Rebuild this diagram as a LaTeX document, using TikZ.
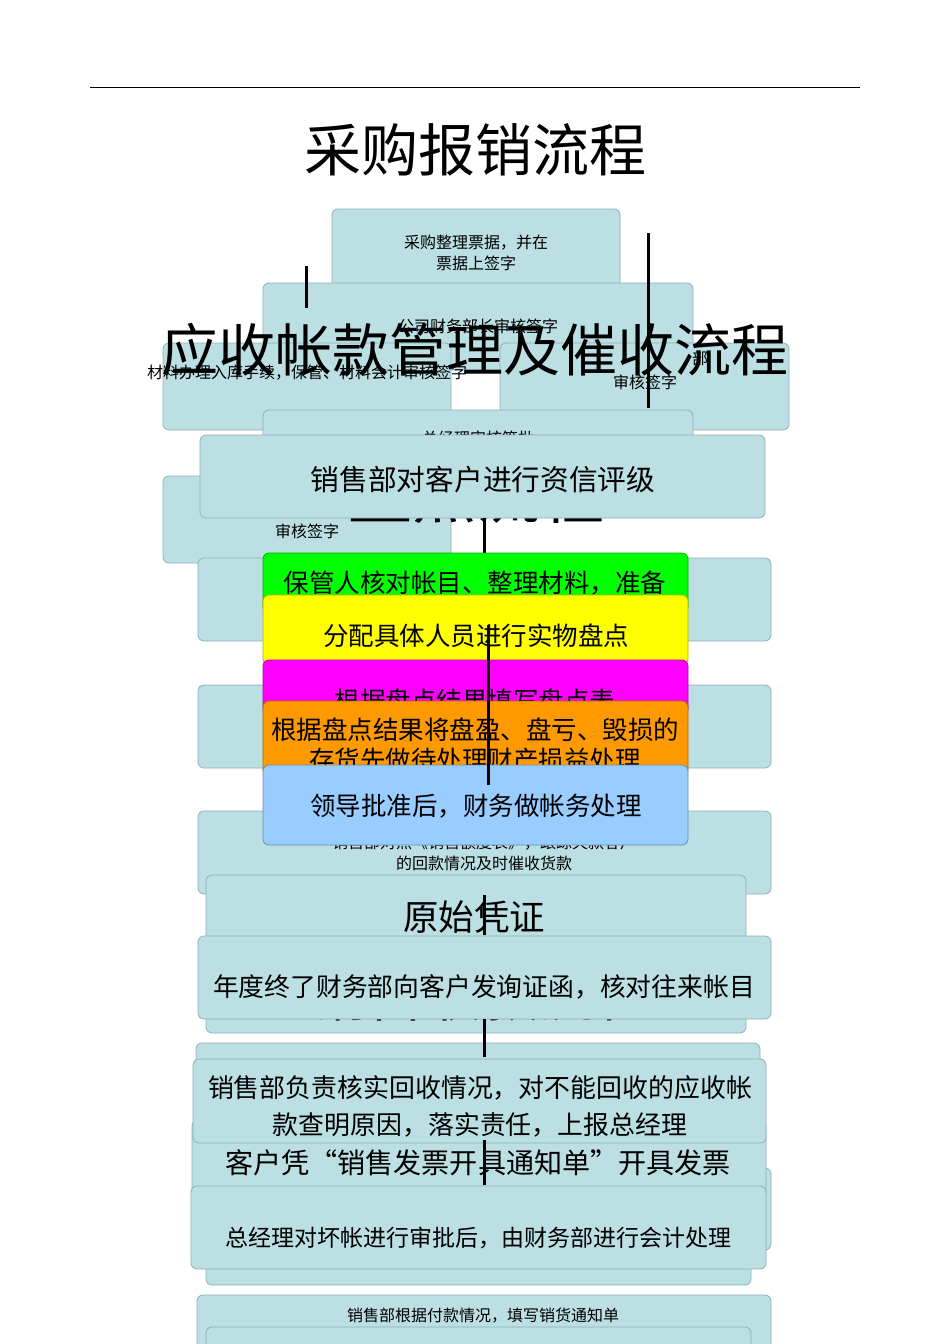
\documentclass[tikz,border=0pt]{standalone}
\usepackage{fontspec}
\setmainfont{Noto Sans CJK SC}
\definecolor{bxfill}{HTML}{BBDFE3}
\definecolor{bxdraw}{HTML}{8FB0B4}
\definecolor{cgreen}{HTML}{00FF00}
\definecolor{cyellow}{HTML}{FFFF00}
\definecolor{cmag}{HTML}{FF00FF}
\definecolor{corange}{HTML}{FF9900}
\definecolor{cblue}{HTML}{99CCFF}
\tikzset{
  box/.style={draw=bxdraw, fill=bxfill, line width=0.8pt, rounded corners=6pt, inner sep=0pt, outer sep=0pt, anchor=north west},
  cbox/.style={draw=#1!70!black, fill=#1, line width=0.8pt, rounded corners=6pt, inner sep=0pt, outer sep=0pt, anchor=north west},
  txt/.style 2 args={inner sep=0pt, align=center, font=\fontsize{#1}{#2}\selectfont},
  bigtitle/.style={inner sep=0pt, font=\fontsize{#1}{#1}\selectfont},
  conn/.style={line width=3pt, black},
}
\begin{document}
\begin{tikzpicture}[x=1pt,y=-1pt]
\useasboundingbox[fill=white] (0,0) rectangle (950,1344);
% top rule
\coordinate (r1) at (90,87); \coordinate (r2) at (860,87);
\draw[line width=1pt] (r1) -- (r2);
\node[bigtitle=57] (t1) at (475,150) {采购报销流程};
% purchase flow
\node[box, minimum width=288pt, minimum height=88pt] (A) at (332,209) {};
\node[txt={16}{21}] (tA) at (476,253) {采购整理票据，并在\\票据上签字};
\node[box, minimum width=430pt, minimum height=87pt] (B) at (263,283) {};
\node[txt={16}{21}] (tB) at (478,326) {公司财务部长审核签字};
\node[box, minimum width=288pt, minimum height=87pt] (C) at (163,343) {};
\node[txt={16}{21}] (tC) at (307,373) {材料办理入库手续，保管、材料会计审核签字};
\node[box, minimum width=289pt, minimum height=87pt] (D) at (500,343) {};
\node[txt={16}{21}] (tD1) at (700,358) {部};
\node[txt={16}{21}] (tD) at (645,382) {审核签字};
\node[box, minimum width=430pt, minimum height=85pt] (E) at (263,410) {};
\node[txt={16}{21}] (tE) at (478,438) {总经理审核签批};
\node[box, minimum width=288pt, minimum height=87pt] (F) at (163,476) {};
\node[txt={16}{21}] (tF) at (307,531) {审核签字};
\node[bigtitle=57] (t2) at (475,350) {应收帐款管理及催收流程};
\coordinate (p1) at (306,266); \coordinate (p2) at (306,308);
\coordinate (p3) at (648,233); \coordinate (p4) at (648,408);
\draw[conn] (p1) -- (p2);
\draw[conn] (p3) -- (p4);
\node[bigtitle=64] (t3) at (476,494) {盘点流程};
% receivables flow
\node[box, minimum width=565pt, minimum height=83pt] (S1) at (200,435) {};
\node[txt={28.7}{37}] (tS1) at (483,480) {销售部对客户进行资信评级};
\node[box, minimum width=573pt, minimum height=83pt] (G) at (198,558) {};
\node[box, minimum width=573pt, minimum height=83pt] (H) at (198,685) {};
\node[box, minimum width=573pt, minimum height=83pt] (I) at (198,811) {};
\node[txt={16}{21}] (tI) at (484,853) {销售部对照《销售额度表》，跟踪欠款客户\\的回款情况及时催收货款};
\coordinate (s1) at (484,518); \coordinate (s2) at (484,553);
\draw[conn] (s1) -- (s2);
% inventory flow
\node[cbox=cgreen, minimum width=425pt, minimum height=60pt] (K1) at (263,553) {};
\node[txt={25.5}{30}] (tK1) at (475,583) {保管人核对帐目、整理材料，准备};
\node[cbox=cyellow, minimum width=425pt, minimum height=70pt] (K2) at (263,595) {};
\node[txt={25.5}{30}] (tK2) at (476,636) {分配具体人员进行实物盘点};
\node[cbox=cmag, minimum width=425pt, minimum height=55pt] (K3) at (263,660) {};
\node[txt={25.5}{30}] (tK3) at (475,701) {根据盘点结果填写盘点表};
\node[cbox=corange, minimum width=425pt, minimum height=75pt] (K4) at (263,701) {};
\node[txt={25.5}{30}] (tK4) at (475,745) {根据盘点结果将盘盈、盘亏、毁损的\\存货先做待处理财产损益处理};
\node[cbox=cblue, minimum width=425pt, minimum height=80pt] (K5) at (263,765) {};
\node[txt={25.5}{30}] (tK5) at (476,806) {领导批准后，财务做帐务处理};
\coordinate (k1) at (488,625); \coordinate (k2) at (488,785);
\draw[conn] (k1) -- (k2);
% lower flows
\node[box, minimum width=540pt, minimum height=158pt] (J) at (206,875) {};
\node[txt={35.5}{40}] (tJ) at (474,917) {原始凭证};
\coordinate (j1) at (484,895); \coordinate (j2) at (484,935);
\draw[conn] (j1) -- (j2);
\node[bigtitle=57] (t4) at (481,995) {销售收款流程};
\node[box, minimum width=573pt, minimum height=83pt] (Kd) at (198,936) {};
\node[txt={25.8}{37}] (tKd) at (484,987) {年度终了财务部向客户发询证函，核对往来帐目};
\node[box, minimum width=564pt, minimum height=60pt] (L) at (196,1043) {};
\coordinate (l1) at (484,1019); \coordinate (l2) at (484,1057);
\draw[conn] (l1) -- (l2);
\node[box, minimum width=566pt, minimum height=82pt] (O) at (205,1168) {};
\node[box, minimum width=545pt, minimum height=85pt] (Sx) at (206,1200) {};
\node[box, minimum width=574pt, minimum height=80pt] (N) at (192,1120) {};
\node[txt={28.1}{40}] (tN) at (478,1163) {客户凭“销售发票开具通知单”开具发票};
\node[box, minimum width=573pt, minimum height=84pt] (M) at (193,1059) {};
\node[txt={25.9}{37}] (tM) at (480,1106) {销售部负责核实回收情况，对不能回收的应收帐\\款查明原因，落实责任，上报总经理};
\node[box, minimum width=575pt, minimum height=83pt] (P) at (191,1186) {};
\node[txt={23}{30}] (tP) at (478,1238) {总经理对坏帐进行审批后，由财务部进行会计处理};
\coordinate (m1) at (484,1140); \coordinate (m2) at (484,1185);
\draw[conn] (m1) -- (m2);
\node[box, minimum width=574pt, minimum height=70pt] (Q) at (197,1295) {};
\node[txt={16}{21}] (tQ) at (483,1316) {销售部根据付款情况，填写销货通知单};
\node[box, minimum width=545pt, minimum height=40pt] (R) at (206,1327) {};
\end{tikzpicture}
\end{document}
